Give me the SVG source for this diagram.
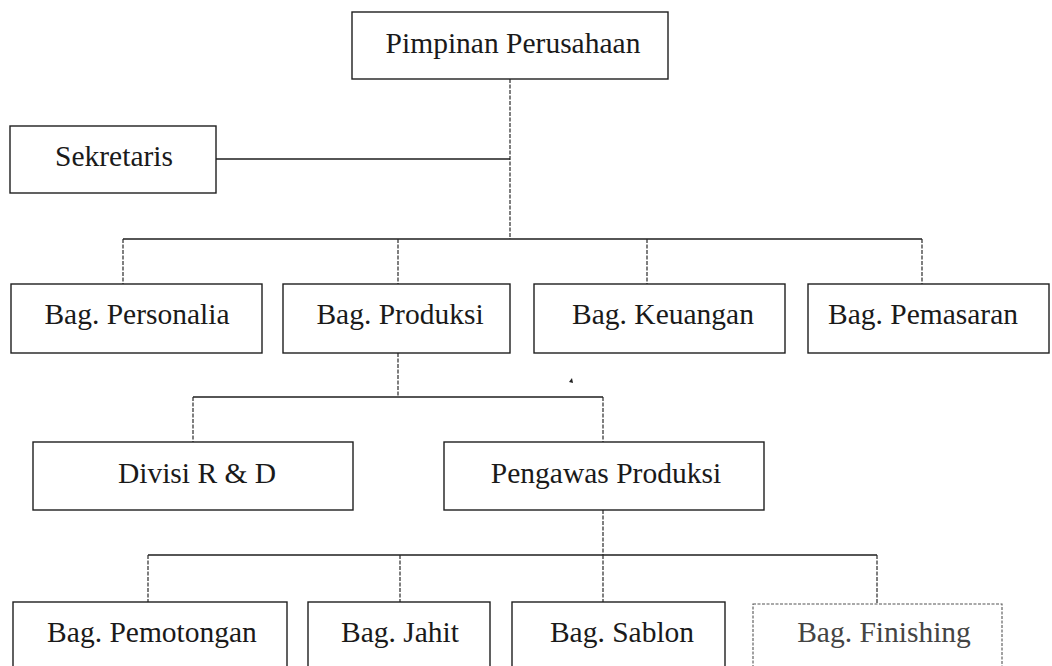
<svg xmlns="http://www.w3.org/2000/svg" width="1052" height="666" viewBox="0 0 1052 666">
<style>
.box{fill:#fff;stroke:#1e1e1e;stroke-width:1.4}
.faint{fill:#fff;stroke:#555;stroke-width:1.1;stroke-dasharray:3 1.5}
.lbl{font-family:"Liberation Serif","Times New Roman",serif;font-size:29.5px;fill:#1a1a1a;text-anchor:middle}
.con{stroke:#1e1e1e;stroke-width:1.4;fill:none}
.dash{stroke:#2a2a2a;stroke-width:1.2;fill:none;stroke-dasharray:4 1.5}
</style>
<rect width="1052" height="666" fill="#fff"/>
<g id="connectors">
<line class="dash" x1="510" y1="79" x2="510" y2="239"/>
<line class="con" x1="216" y1="159" x2="510" y2="159"/>
<line class="con" x1="123" y1="239" x2="922" y2="239"/>
<line class="dash" x1="123" y1="239" x2="123" y2="284"/>
<line class="dash" x1="398" y1="239" x2="398" y2="284"/>
<line class="dash" x1="647" y1="239" x2="647" y2="284"/>
<line class="dash" x1="922" y1="239" x2="922" y2="284"/>
<line class="dash" x1="398" y1="353" x2="398" y2="397"/>
<line class="con" x1="193" y1="397" x2="603" y2="397"/>
<line class="dash" x1="193" y1="397" x2="193" y2="442"/>
<line class="dash" x1="603" y1="397" x2="603" y2="442"/>
<line class="dash" x1="603" y1="510" x2="603" y2="555"/>
<line class="con" x1="148" y1="555" x2="877" y2="555"/>
<line class="dash" x1="148" y1="555" x2="148" y2="602"/>
<line class="dash" x1="400" y1="555" x2="400" y2="602"/>
<line class="dash" x1="603" y1="555" x2="603" y2="602"/>
<line class="dash" x1="877" y1="555" x2="877" y2="604"/>
</g>
<g id="pimpinan"><rect class="box" x="352" y="12" width="316" height="67"/><text class="lbl" x="513" y="53">Pimpinan Perusahaan</text></g>
<g id="sekretaris"><rect class="box" x="10" y="126" width="206" height="67"/><text class="lbl" x="114" y="166">Sekretaris</text></g>
<g id="personalia"><rect class="box" x="11" y="284" width="251" height="69"/><text class="lbl" x="137" y="324">Bag. Personalia</text></g>
<g id="produksi"><rect class="box" x="283" y="284" width="227" height="69"/><text class="lbl" x="400" y="324">Bag. Produksi</text></g>
<g id="keuangan"><rect class="box" x="534" y="284" width="251" height="69"/><text class="lbl" x="663" y="324">Bag. Keuangan</text></g>
<g id="pemasaran"><rect class="box" x="808" y="284" width="241" height="69"/><text class="lbl" x="923" y="324">Bag. Pemasaran</text></g>
<g id="divisi-rd"><rect class="box" x="33" y="442" width="320" height="68"/><text class="lbl" x="197" y="483">Divisi R &amp; D</text></g>
<g id="pengawas"><rect class="box" x="444" y="442" width="320" height="68"/><text class="lbl" x="606" y="483">Pengawas Produksi</text></g>
<g id="pemotongan"><rect class="box" x="13" y="602" width="274" height="80"/><text class="lbl" x="152" y="642">Bag. Pemotongan</text></g>
<g id="jahit"><rect class="box" x="308" y="602" width="182" height="80"/><text class="lbl" x="400" y="642">Bag. Jahit</text></g>
<g id="sablon"><rect class="box" x="512" y="602" width="213" height="80"/><text class="lbl" x="622" y="642">Bag. Sablon</text></g>
<g id="finishing"><rect class="faint" x="753" y="604" width="249" height="80"/><text class="lbl" x="884" y="642" style="fill:#444">Bag. Finishing</text></g>
<path d="M569 382 L572 378 L573 383 Z" fill="#222"/>
</svg>
